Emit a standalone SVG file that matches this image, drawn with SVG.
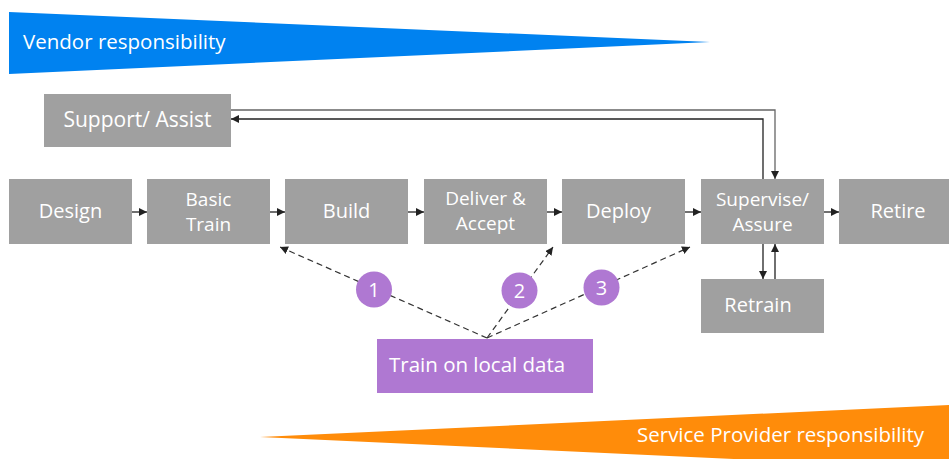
<svg xmlns="http://www.w3.org/2000/svg" width="949" height="459" viewBox="0 0 949 459">
  <defs>
    <style>
      .box { fill: #a0a0a0; }
      .lbl { fill: #ffffff; font-family: "Open Sans", "Noto Sans", "DejaVu Sans", sans-serif; font-size: 20px; text-anchor: middle; }
      .two { font-size: 19px; }
      .band { fill: #ffffff; font-family: "Open Sans", "Noto Sans", "DejaVu Sans", sans-serif; font-size: 20.5px; }
      .flow { fill: none; stroke: #222222; stroke-width: 1.3; marker-end: url(#arrow); }
      .dash { fill: none; stroke: #333333; stroke-width: 1.2; stroke-dasharray: 6 4; marker-end: url(#arrow); }
      .step { fill: #af78d2; }
    </style>
    <marker id="arrow" viewBox="0 0 10 10" refX="10" refY="5" markerWidth="8" markerHeight="8" markerUnits="userSpaceOnUse" orient="auto">
      <path d="M0,0 L10,5 L0,10 Z" fill="#222222"/>
    </marker>
  </defs>

  <rect width="949" height="459" fill="#ffffff"/>

  <!-- responsibility bands -->
  <g id="vendor-band">
    <polygon points="9,12 710,42 9,74" fill="#0082f0"/>
    <text class="band" x="23" y="48.5">Vendor responsibility</text>
  </g>
  <g id="provider-band">
    <polygon points="260,437 949,405 949,469" fill="#ff8c0a"/>
    <text class="band" x="637" y="442">Service Provider responsibility</text>
  </g>

  <!-- connectors -->
  <g id="connectors">
    <line class="flow" x1="132" y1="212" x2="147" y2="212"/>
    <line class="flow" x1="270" y1="212" x2="285" y2="212"/>
    <line class="flow" x1="408" y1="212" x2="424" y2="212"/>
    <line class="flow" x1="547" y1="212" x2="562" y2="212"/>
    <line class="flow" x1="685" y1="212" x2="701" y2="212"/>
    <line class="flow" x1="824" y1="212" x2="839" y2="212"/>
    <polyline class="flow" style="stroke:#666666" points="231,110 775,110 775,179"/>
    <polyline class="flow" points="763,179 763,119 231,119"/>
    <line class="flow" x1="763" y1="244" x2="763" y2="279"/>
    <line class="flow" x1="775" y1="279" x2="775" y2="244"/>
    <line class="dash" x1="487" y1="338" x2="280" y2="247"/>
    <line class="dash" x1="487" y1="338" x2="553" y2="247"/>
    <line class="dash" x1="487" y1="338" x2="690" y2="247"/>
  </g>

  <!-- lifecycle stages -->
  <g id="support">
    <rect class="box" x="44" y="94" width="187" height="53"/>
    <text class="lbl" x="137.5" y="127" style="font-size:21px">Support/ Assist</text>
  </g>
  <g id="design">
    <rect class="box" x="9" y="179" width="123" height="65"/>
    <text class="lbl" x="70.5" y="218">Design</text>
  </g>
  <g id="basic-train">
    <rect class="box" x="147" y="179" width="123" height="65"/>
    <text class="lbl two" x="208.5" y="206">Basic</text>
    <text class="lbl two" x="208.5" y="231">Train</text>
  </g>
  <g id="build">
    <rect class="box" x="285" y="179" width="123" height="65"/>
    <text class="lbl" x="346.5" y="218">Build</text>
  </g>
  <g id="deliver-accept">
    <rect class="box" x="424" y="179" width="123" height="65"/>
    <text class="lbl two" x="485.5" y="205">Deliver &amp;</text>
    <text class="lbl two" x="485.5" y="230">Accept</text>
  </g>
  <g id="deploy">
    <rect class="box" x="562" y="179" width="123" height="65"/>
    <text class="lbl" x="618.5" y="218">Deploy</text>
  </g>
  <g id="supervise">
    <rect class="box" x="701" y="179" width="123" height="65"/>
    <text class="lbl two" x="762.5" y="206">Supervise/</text>
    <text class="lbl two" x="762.5" y="231">Assure</text>
  </g>
  <g id="retire">
    <rect class="box" x="839" y="179" width="123" height="65"/>
    <text class="lbl" x="898" y="218">Retire</text>
  </g>
  <g id="retrain">
    <rect class="box" x="701" y="279" width="123" height="54"/>
    <text class="lbl" x="758" y="311.5">Retrain</text>
  </g>

  <!-- local training -->
  <g id="train-local">
    <rect x="377" y="339" width="216" height="54" fill="#af78d2"/>
    <text class="band" x="389" y="371.5">Train on local data</text>
  </g>
  <g id="step-1">
    <circle class="step" cx="374" cy="289.5" r="18"/>
    <text class="lbl" x="374" y="296.5">1</text>
  </g>
  <g id="step-2">
    <circle class="step" cx="519.5" cy="290.5" r="18"/>
    <text class="lbl" x="519.5" y="297.5">2</text>
  </g>
  <g id="step-3">
    <circle class="step" cx="601.5" cy="287.5" r="18"/>
    <text class="lbl" x="601.5" y="294.5">3</text>
  </g>
</svg>
